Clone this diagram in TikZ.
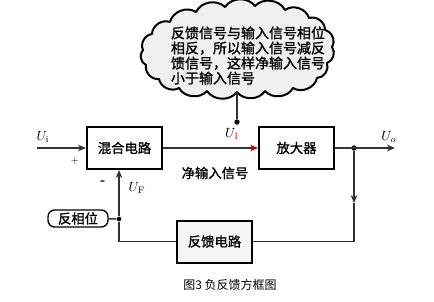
\documentclass[tikz,border=0pt]{standalone}
\usepackage{fontspec}
\newfontfamily\cjk{Noto Sans CJK SC}
\newfontfamily\cjkb[FakeBold=1.2]{Noto Sans CJK SC}
\usetikzlibrary{arrows.meta}
\begin{document}
\begin{tikzpicture}[x=0.75pt,y=-0.75pt,
  blk/.style={draw=black,line width=1.5pt,fill=white,minimum width=75*0.75pt,minimum height=42*0.75pt,font=\cjkb\fontsize{10}{12}\selectfont,inner sep=0pt},
  wire/.style={draw=black!80,line width=1.1pt},
  tip/.style={-{Stealth[length=6pt,width=5pt]}},
  redtip/.style={-{Stealth[length=6pt,width=5pt,red!80!black]}},
  lbl/.style={font=\fontsize{10}{12}\selectfont,inner sep=0pt},
  dot/.style={circle,fill=black,inner sep=0pt,minimum size=4pt},
  puff/.style={bend left=55}]
\useasboundingbox (0,0) rectangle (434,301);
% cloud
\draw[line width=1.5pt,fill=black!6,line join=round]
  (143,50) to[puff] (152,34) to[puff] (170,22) to[puff] (196,12) to[puff] (225,7)
  to[puff] (255,6) to[puff] (285,10) to[puff] (309,18) to[puff] (325,30)
  to[puff] (332,47) to[puff] (327,63) to[puff] (317,78) to[puff] (293,88)
  to[puff] (265,91) to[puff] (237,92) to[puff] (207,91) to[puff] (179,88)
  to[puff] (159,79) to[puff] (146,65) to[puff] cycle;
\coordinate (cloudbot) at (237,92);
\node[font=\cjkb\fontsize{10.5}{11.3}\selectfont,align=left,inner sep=0pt] (ctext) at (248,55.5) {反馈信号与输入信号相位\\相反，所以输入信号减反\\馈信号，这样净输入信号\\小于输入信号};
\node[dot] (tail) at (237,122) {};
\draw[wire] (tail) -- (cloudbot);
% blocks
\node[blk] (mix) at (124.5,148) {混合电路};
\node[blk] (amp) at (296.5,148) {放大器};
\node[blk,fill=black!4] (fb) at (214.5,241.5) {反馈电路};
\node[draw=black,line width=1pt,rounded corners=5pt,minimum width=60*0.75pt,minimum height=17*0.75pt,inner sep=0pt,font=\cjkb\fontsize{10}{12}\selectfont] (phase) at (78,218.5) {反相位};
% coordinates
\coordinate (in) at (37,148);
\coordinate (out) at (395,148);
\node[dot] (split) at (354,148) {};
\coordinate (mid) at (354,203);
\coordinate (c1) at (354,241.5);
\coordinate (c2) at (119,241.5);
\node[dot,minimum size=3.5pt] (junc) at (119,219) {};
% wires
\draw[wire,tip] (in) -- (mix.west);
\draw[wire,redtip] (mix.east) -- (amp.west);
\draw[wire,tip] (amp.east) -- (out);
\draw[wire,tip] (split) -- (mid);
\draw[wire] (mid) -- (c1) -- (fb.east);
\draw[wire] (fb.west) -- (c2) -- (junc);
\draw[wire,tip] (junc) -- (junc |- mix.south);
\draw[wire] (phase) -- (junc);
% labels
\node[lbl] (ui) at (43,137) {$U_\mathrm{i}$};
\node[lbl] (plus) at (75,161) {\scriptsize $+$};
\node[lbl] (minus) at (103,183) {\textbf{-}};
\node[lbl] (uf) at (137,188) {$U_\mathrm{F}$};
\node[lbl] (uI) at (232,134) {$U_{\color{red}\mathrm{I}}$};
\node[lbl,font=\cjkb\fontsize{10}{12}\selectfont] (net) at (215,173) {净输入信号};
\node[lbl] (uo) at (389,137) {$U_o$};
\node[lbl,font=\cjk\fontsize{9}{11}\selectfont] (cap) at (230,285) {图3 负反馈方框图};
\end{tikzpicture}
\end{document}
